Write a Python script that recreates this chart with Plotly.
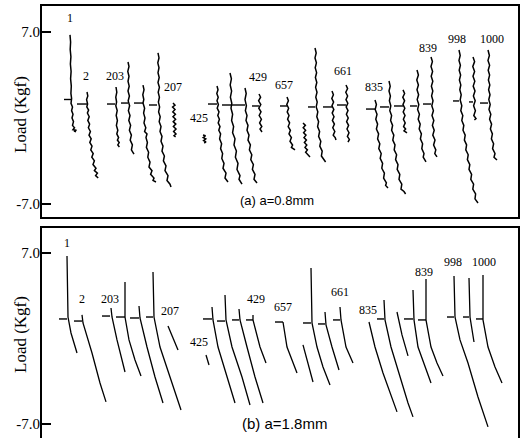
import plotly.graph_objects as go

# ---------------- panel (a): a = 0.8 mm ----------------
# one list of (time, load [Kgf]) samples per recorded load cycle
A_CYCLES = [
    [(29, 6.78), (29.6, 6.2), (29.2, 5.6), (29.9, 5.0), (29.4, 4.4), (30.1, 3.8), (29.6, 3.2),
     (30.3, 2.6), (29.9, 2.0), (30.6, 1.6), (30.0, 1.2), (31.5, 0.9), (30.6, 0.6), (32.0, 0.3),
     (31.0, 0.0), (32.5, -0.3), (31.5, -0.6), (33.5, -0.8), (32.0, -0.95), (35.5, -1.0),
     (33.0, -1.06), (35.0, -1.12)],
    [(46, 2.12), (46.8, 1.8), (45.6, 1.5), (46.6, 1.14), (45.8, 0.9), (47.6, 0.65), (46.4, 0.4),
     (48.2, 0.1), (46.8, -0.2), (48.6, -0.5), (47.4, -0.8), (49.4, -1.1), (48.0, -1.4),
     (50.2, -1.7), (48.8, -2.0), (51.0, -2.3), (49.8, -2.6), (52.2, -2.9), (50.8, -3.2),
     (53.4, -3.5), (52.0, -3.8), (55.0, -4.1), (53.4, -4.3), (56.4, -4.5), (54.6, -4.7),
     (57.2, -4.9)],
    [(75, 2.53), (75.8, 2.1), (74.8, 1.7), (75.6, 1.3), (74.8, 1.0), (76.2, 0.6), (75.2, 0.2),
     (76.4, -0.2), (75.4, -0.6), (76.8, -1.0), (75.8, -1.3), (77.6, -1.6), (76.4, -1.8),
     (78.2, -2.0), (76.8, -2.2), (78.4, -2.37)],
    [(87, 4.57), (88, 4.2), (86.8, 3.8), (88, 3.4), (87, 3.0), (88.2, 2.6), (87, 2.2), (88.4, 1.8),
     (87.2, 1.4), (88.6, 1.0), (87.4, 0.6), (89, 0.2), (87.8, -0.2), (89.6, -0.6), (88.4, -1.0),
     (90.4, -1.4), (89.2, -1.8), (91.4, -2.2), (90.4, -2.6), (93, -2.94)],
    [(102, 2.69), (103, 2.3), (101.8, 1.9), (102.8, 1.5), (102, 1.22), (103.6, 0.8), (102.6, 0.4),
     (104, 0.0), (103, -0.4), (104.8, -0.8), (103.6, -1.1), (106, -1.3), (105, -1.6),
     (106.4, -2.0), (105.4, -2.4), (107.6, -2.8), (106.8, -3.2), (109, -3.6), (108, -4.0),
     (111, -4.3), (109.6, -4.6), (113, -4.9), (112, -5.1), (115, -5.22)],
    [(117, 5.31), (118, 4.9), (116.8, 4.5), (118, 4.1), (117, 3.7), (118.2, 3.3), (117, 2.9),
     (118.4, 2.5), (117.2, 2.1), (118.4, 1.7), (117.4, 1.3), (118.6, 0.9), (117.6, 0.5),
     (119.2, 0.1), (118.2, -0.3), (120, -0.7), (119, -1.1), (121, -1.5), (120, -1.9),
     (122, -2.3), (121, -2.7), (123.4, -3.1), (122.4, -3.5), (125, -3.9), (124, -4.3),
     (127, -4.7), (126, -5.1), (129, -5.4), (130, -5.63)],
    [(132, 1.22), (134, 1.05), (131.6, 0.9), (134, 0.7), (131.8, 0.5), (134.4, 0.3), (132, 0.1),
     (134.6, -0.1), (132.2, -0.3), (134.8, -0.5), (132.4, -0.7), (135, -0.9), (132.6, -1.1),
     (135, -1.3), (133, -1.45), (134.6, -1.55)],
    [(162, -1.39), (164.5, -1.45), (162.2, -1.6), (164.8, -1.7), (162.6, -1.85), (165, -1.95),
     (163.2, -2.04)],
    [(176, 2.61), (177, 2.3), (175.8, 2.0), (177.2, 1.7), (176, 1.4), (177.4, 1.1), (176.2, 0.8),
     (178, 0.5), (176.8, 0.2), (178.4, -0.1), (177.2, -0.4), (179, -0.7), (177.8, -1.0),
     (179.6, -1.3), (178.6, -1.7), (180.6, -2.1), (179.6, -2.5), (181.6, -2.9), (180.8, -3.3),
     (183, -3.7), (182, -4.1), (185, -4.5), (184, -4.9), (187, -5.22)],
    [(189, 3.67), (190.4, 3.2), (189.2, 2.7), (190.6, 2.2), (189.4, 1.7), (190.8, 1.2), (190, 0.8),
     (191.6, 0.3), (190.6, -0.2), (192.6, -0.7), (191.6, -1.2), (194, -1.7), (193, -2.2),
     (195.4, -2.7), (194.4, -3.2), (197, -3.7), (196, -4.2), (199, -4.7), (198, -5.0),
     (201, -5.39)],
    [(204, 2.45), (205.2, 2.0), (204, 1.5), (205.4, 1.0), (204.4, 0.6), (206, 0.2), (205, -0.2),
     (207, -0.6), (206, -1.0), (208, -1.4), (207, -1.8), (209.4, -2.2), (208.4, -2.6),
     (210.8, -3.0), (209.8, -3.4), (212.4, -3.8), (211.4, -4.2), (214, -4.6), (213, -5.0),
     (216, -5.31)],
    [(218, 1.96), (219.6, 1.7), (217.6, 1.4), (219.8, 1.1), (217.8, 0.8), (220, 0.5), (218.2, 0.2),
     (220.4, -0.1), (218.6, -0.4), (220.8, -0.7), (219, -0.9), (221, -1.14)],
    [(246, 1.71), (247.4, 1.4), (245.8, 1.1), (247.6, 0.8), (246.2, 0.5), (248, 0.2), (246.6, -0.1),
     (248.6, -0.4), (247.2, -0.7), (249.4, -1.0), (248, -1.3), (250.4, -1.6), (249, -1.9),
     (251.6, -2.2), (250.4, -2.4), (254, -2.61)],
    [(262, -0.41), (264.4, -0.6), (262.2, -0.8), (264.6, -1.0), (262.6, -1.2), (265, -1.4),
     (263, -1.6), (265.4, -1.8), (263.4, -2.0), (265.8, -2.2), (264, -2.4), (266.4, -2.6),
     (264.6, -2.8), (267, -3.0), (269, -3.18)],
    [(274, 5.71), (275.2, 5.3), (274, 4.9), (275.4, 4.5), (274.2, 4.1), (275.6, 3.7), (274.4, 3.3),
     (275.8, 2.9), (274.6, 2.5), (276, 2.1), (274.8, 1.7), (276.2, 1.3), (275.2, 0.9),
     (276.8, 0.5), (275.8, 0.1), (277.6, -0.3), (276.6, -0.7), (278.6, -1.1), (277.6, -1.5),
     (279.8, -1.9), (278.8, -2.3), (281.2, -2.7), (280.4, -3.1), (283, -3.4), (284.6, -3.59)],
    [(291, 2.20), (292.4, 1.9), (290.8, 1.6), (292.6, 1.3), (291, 1.0), (292.8, 0.7), (291.2, 0.4),
     (293, 0.1), (291.4, -0.2), (293.4, -0.5), (291.8, -0.8), (293.8, -1.1), (292.2, -1.4),
     (294.2, -1.6), (295, -1.80)],
    [(305, 2.69), (306.6, 2.4), (304.8, 2.1), (306.6, 1.8), (305, 1.5), (306.8, 1.2), (305.2, 0.9),
     (307, 0.6), (305.4, 0.3), (307.2, 0.0), (305.6, -0.3), (307.6, -0.6), (306, -0.9),
     (308, -1.2), (306.4, -1.5), (308.4, -1.75), (307, -1.96)],
    [(334, 1.47), (335.4, 1.1), (334.2, 0.7), (336, 0.3), (334.8, -0.1), (336.6, -0.5),
     (335.4, -0.9), (337.6, -1.3), (336.6, -1.7), (338.8, -2.1), (337.8, -2.5), (340.2, -2.9),
     (339.2, -3.3), (341.6, -3.7), (340.8, -4.1), (343.4, -4.5), (342.6, -4.9), (345.4, -5.3),
     (344.6, -5.5), (347, -5.71)],
    [(348, 3.02), (349.2, 2.6), (348, 2.2), (349.4, 1.8), (348.4, 1.4), (349.8, 1.0), (348.8, 0.6),
     (350.6, 0.2), (349.6, -0.2), (351.6, -0.6), (350.6, -1.0), (352.8, -1.4), (351.8, -1.8),
     (354, -2.2), (353.2, -2.6), (355.6, -3.0), (354.6, -3.4), (357, -3.8), (356.2, -4.2),
     (358.8, -4.6), (358, -5.0), (360.8, -5.4), (360, -5.8), (363, -6.0), (364.6, -6.2)],
    [(362, 2.29), (363.6, 2.0), (361.8, 1.7), (363.6, 1.4), (362, 1.1), (363.8, 0.8), (362.2, 0.5),
     (364, 0.2), (362.4, -0.1), (364.2, -0.4), (362.6, -0.7), (364.6, -0.9), (363, -1.05),
     (366, -1.22)],
    [(376, 3.92), (377.4, 3.5), (375.8, 3.1), (377.4, 2.7), (376, 2.3), (377.6, 1.9), (376.2, 1.5),
     (377.8, 1.1), (376.6, 0.7), (378.4, 0.3), (377.2, -0.1), (379.2, -0.5), (378.2, -0.9),
     (380.4, -1.3), (379.4, -1.7), (381.6, -2.1), (380.8, -2.5), (383, -2.9), (382.2, -3.2),
     (385, -3.59)],
    [(390, 4.98), (391.4, 4.6), (390, 4.2), (391.6, 3.8), (390.2, 3.4), (391.8, 3.0), (390.4, 2.6),
     (391.8, 2.2), (390.6, 1.8), (392, 1.4), (390.8, 1.0), (392.4, 0.6), (391, 0.2),
     (392.8, -0.2), (391.4, -0.6), (393.2, -1.0), (391.8, -1.4), (394, -1.8), (392.6, -2.2),
     (394.8, -2.6), (393.8, -2.9), (396, -3.18)],
    [(418, 5.55), (419.2, 5.1), (418, 4.7), (419.4, 4.3), (418.2, 3.9), (419.6, 3.5), (418.4, 3.1),
     (419.8, 2.7), (418.8, 2.3), (420.2, 1.9), (419.2, 1.47), (420.8, 1.0), (419.8, 0.6),
     (421.8, 0.2), (420.8, -0.2), (422.8, -0.6), (422, -1.0), (424.2, -1.4), (423.4, -1.8),
     (425.6, -2.2), (424.8, -2.6), (427.2, -3.0), (426.4, -3.4), (428.8, -3.8), (428, -4.2),
     (430.6, -4.6), (429.8, -5.0), (432.6, -5.4), (431.8, -5.8), (434.6, -6.2), (434, -6.6),
     (437, -6.94)],
    [(432, 4.98), (433.6, 4.6), (431.8, 4.2), (433.6, 3.8), (432, 3.4), (433.8, 3.0), (432.2, 2.6),
     (434, 2.2), (432.4, 1.8), (434.2, 1.4), (432.6, 1.0), (434.4, 0.6), (432.8, 0.2),
     (435, -0.05), (433.4, -0.16)],
    [(447, 5.55), (448.4, 5.1), (447, 4.7), (448.6, 4.3), (447.2, 3.9), (448.6, 3.5), (447.4, 3.1),
     (448.8, 2.7), (447.6, 2.3), (449, 1.9), (447.8, 1.5), (449.2, 1.1), (448, 0.7), (449.8, 0.3),
     (448.6, -0.1), (450.6, -0.5), (449.4, -0.9), (451.4, -1.3), (450.4, -1.7), (452.6, -2.1),
     (451.6, -2.5), (454, -2.9), (453, -3.2), (456, -3.43)],
]
# mean-load markers: (start time, end time, load)
A_MEAN = [
    (23, 30, 1.51), (36, 46, 1.14), (66, 74, 1.14), (80, 87, 1.22),
    (93, 102, 1.22), (108, 116, 1.06), (167, 176, 1.14), (181, 189, 1.06),
    (189, 204, 1.06), (211, 218, 0.98), (239, 246, 0.98), (267, 274, 0.90),
    (282, 291, 0.90), (296, 305, 1.06), (325, 334, 0.73), (339, 348, 0.90),
    (353, 362, 0.98), (369, 376, 0.98), (382, 390, 1.14), (412, 418, 1.39),
    (428, 432, 1.31), (439, 447, 1.22),
]
A_CYCLE_NO = ["1", "2", "203", "207", "425", "429", "657", "661", "835", "839", "998", "1000"]
A_CYCLE_T = [29, 45, 74, 132, 158, 217, 243, 302, 333, 387, 416, 451]
A_CYCLE_LOAD = [8.16, 3.43, 3.43, 2.53, 0.0, 3.35, 2.69, 3.84, 2.53, 5.71, 6.45, 6.45]

# ---------------- panel (b): a = 1.8 mm ----------------
B_CYCLES = [
    [(26, 6.76), (26.5, 4.0), (27, 1.76), (30, 0.45), (36, -1.19)],
    [(41, 1.93), (42, 1.27), (51, -1.19), (59, -3.65), (65, -5.20)],
    [(70, 2.50), (71, 1.76), (76, -0.12), (81, -1.76), (84, -2.75)],
    [(84, 4.63), (84, 1.76), (88, -0.12), (94, -1.76), (100, -3.07)],
    [(98, 2.66), (99, 1.68), (106, -0.70), (114, -3.16), (122, -5.29)],
    [(112, 5.45), (113, 1.76), (119, -0.70), (129, -3.16), (140, -5.86)],
    [(127, 1.02), (132, 0.05), (137, -0.94)],
    [(165, -1.35), (168, -2.17)],
    [(171, 2.58), (172, 1.52), (177, -0.70), (186, -3.16), (194, -5.29)],
    [(184, 3.57), (185, 1.52), (191, -0.70), (201, -3.16), (209, -5.45)],
    [(198, 2.42), (199, 1.52), (206, -0.70), (214, -3.16), (222, -5.29)],
    [(212, 1.93), (212, 1.52), (219, -0.70), (225, -2.01)],
    [(242, 1.35), (246, -0.70), (256, -2.83)],
    [(262, -0.53), (272, -3.57)],
    [(270, 5.78), (271, 1.27), (276, -0.70), (282, -2.34), (289, -3.81)],
    [(284, 2.17), (285, 1.11), (291, -0.70), (298, -2.58)],
    [(299, 2.58), (300, 1.52), (305, -0.70), (312, -2.01)],
    [(328, 1.35), (334, -0.70), (342, -2.83), (351, -4.80), (356, -6.02)],
    [(343, 3.16), (344, 1.52), (350, -0.70), (359, -3.16), (367, -5.29), (372, -6.43)],
    [(356, 2.17), (361, 0.29), (367, -1.43)],
    [(372, 3.98), (373, 1.52), (377, -0.70), (384, -2.34), (390, -3.65)],
    [(385, 4.88), (385, 1.52), (390, -0.70), (396, -2.01), (402, -3.07)],
    [(413, 5.12), (414, 1.76), (419, -0.12), (427, -2.01), (437, -4.80), (447, -7.25)],
    [(428, 4.96), (429, 1.76), (433, -0.29)],
    [(442, 5.20), (442, 1.52), (447, -0.70), (454, -2.34), (461, -3.65)],
]
B_MEAN = [
    (18, 26, 1.60), (33, 41, 1.43), (61, 69, 1.84), (75, 84, 1.76),
    (89, 98, 1.68), (105, 112, 1.76), (162, 171, 1.60), (176, 184, 1.43),
    (191, 198, 1.52), (205, 212, 1.52), (234, 242, 1.35), (262, 270, 1.27),
    (277, 284, 1.19), (292, 299, 1.52), (336, 343, 1.60), (363, 372, 1.60),
    (377, 385, 1.52), (406, 413, 1.76), (422, 428, 1.76), (435, 442, 1.60),
]
B_CYCLE_NO = ["1", "2", "203", "207", "425", "429", "657", "661", "835", "839", "998", "1000"]
B_CYCLE_T = [26, 41, 69, 129, 158, 215, 242, 299, 327, 383, 412, 443]
B_CYCLE_LOAD = [7.83, 3.24, 3.24, 2.25, -0.29, 3.24, 2.58, 3.81, 2.34, 5.45, 6.27, 6.27]

Y_TICKS = [7.0, -7.0]
Y_TICK_TEXT = ["7.0", "-7.0"]

W, H = 520, 438
BOX_L, BOX_R = 41 / W, 519 / W
A_DOM = [1 - 218 / H, 1 - 5 / H]
B_DOM = [0, 1 - 227 / H]

fig = go.Figure()


def add_panel(cycles, means, xa, ya, width):
    for cyc in cycles:
        t = [p[0] for p in cyc]
        ld = [p[1] for p in cyc]
        fig.add_trace(go.Scatter(x=t, y=ld, mode="lines", xaxis=xa, yaxis=ya,
                                 line=dict(color="black", width=width),
                                 hoverinfo="skip", showlegend=False))
    for t0, t1, lv in means:
        fig.add_trace(go.Scatter(x=[t0, t1], y=[lv, lv], mode="lines", xaxis=xa, yaxis=ya,
                                 line=dict(color="black", width=1.4),
                                 hoverinfo="skip", showlegend=False))


add_panel(A_CYCLES, A_MEAN, "x", "y", 1.5)
add_panel(B_CYCLES, B_MEAN, "x2", "y2", 1.3)

serif = "Liberation Serif, Times New Roman, serif"
sans = "Liberation Sans, Arial, sans-serif"

annotations = []
for txt, t, lv in zip(A_CYCLE_NO, A_CYCLE_T, A_CYCLE_LOAD):
    annotations.append(dict(x=t, y=lv, xref="x", yref="y", text=txt, showarrow=False,
                            xanchor="center", yanchor="middle",
                            font=dict(family=serif, size=12, color="black")))
for txt, t, lv in zip(B_CYCLE_NO, B_CYCLE_T, B_CYCLE_LOAD):
    annotations.append(dict(x=t, y=lv, xref="x2", yref="y2", text=txt, showarrow=False,
                            xanchor="center", yanchor="middle",
                            font=dict(family=serif, size=12, color="black")))

for yc in (1 - 115 / H, 1 - 335 / H):
    annotations.append(dict(x=20 / W, y=yc, xref="paper", yref="paper", text="Load (Kgf)",
                            textangle=-90, showarrow=False, xanchor="center", yanchor="middle",
                            font=dict(family=serif, size=17, color="black")))

annotations.append(dict(x=276.5 / W, y=1 - 200 / H, xref="paper", yref="paper",
                        text="(a) a=0.8mm", showarrow=False, xanchor="center", yanchor="middle",
                        font=dict(family=sans, size=13, color="black")))
annotations.append(dict(x=284.5 / W, y=1 - 423 / H, xref="paper", yref="paper",
                        text="(b) a=1.8mm", showarrow=False, xanchor="center", yanchor="middle",
                        font=dict(family=sans, size=15, color="black")))

shapes = [
    dict(type="rect", xref="paper", yref="paper", x0=BOX_L, x1=BOX_R,
         y0=A_DOM[0], y1=A_DOM[1], line=dict(color="black", width=2)),
    dict(type="rect", xref="paper", yref="paper", x0=BOX_L, x1=BOX_R,
         y0=-0.02, y1=B_DOM[1], line=dict(color="black", width=2)),
]

xcommon = dict(range=[0, 478], showgrid=False, zeroline=False, showline=False,
               showticklabels=False, ticks="")
ycommon = dict(showgrid=False, zeroline=False, showline=False,
               tickvals=Y_TICKS, ticktext=Y_TICK_TEXT, ticks="inside", ticklen=10,
               tickwidth=2, tickcolor="black",
               tickfont=dict(family=serif, size=15, color="black"))

fig.update_layout(
    width=W, height=H,
    margin=dict(l=0, r=0, t=0, b=0),
    paper_bgcolor="white", plot_bgcolor="white",
    xaxis=dict(domain=[BOX_L, BOX_R], anchor="y", **xcommon),
    yaxis=dict(domain=A_DOM, anchor="x", range=[-8.16, 9.22], **ycommon),
    xaxis2=dict(domain=[BOX_L, BOX_R], anchor="y2", **xcommon),
    yaxis2=dict(domain=B_DOM, anchor="x2", range=[-8.16, 9.14], **ycommon),
    annotations=annotations,
    shapes=shapes,
)

fig.write_html("out.html")
